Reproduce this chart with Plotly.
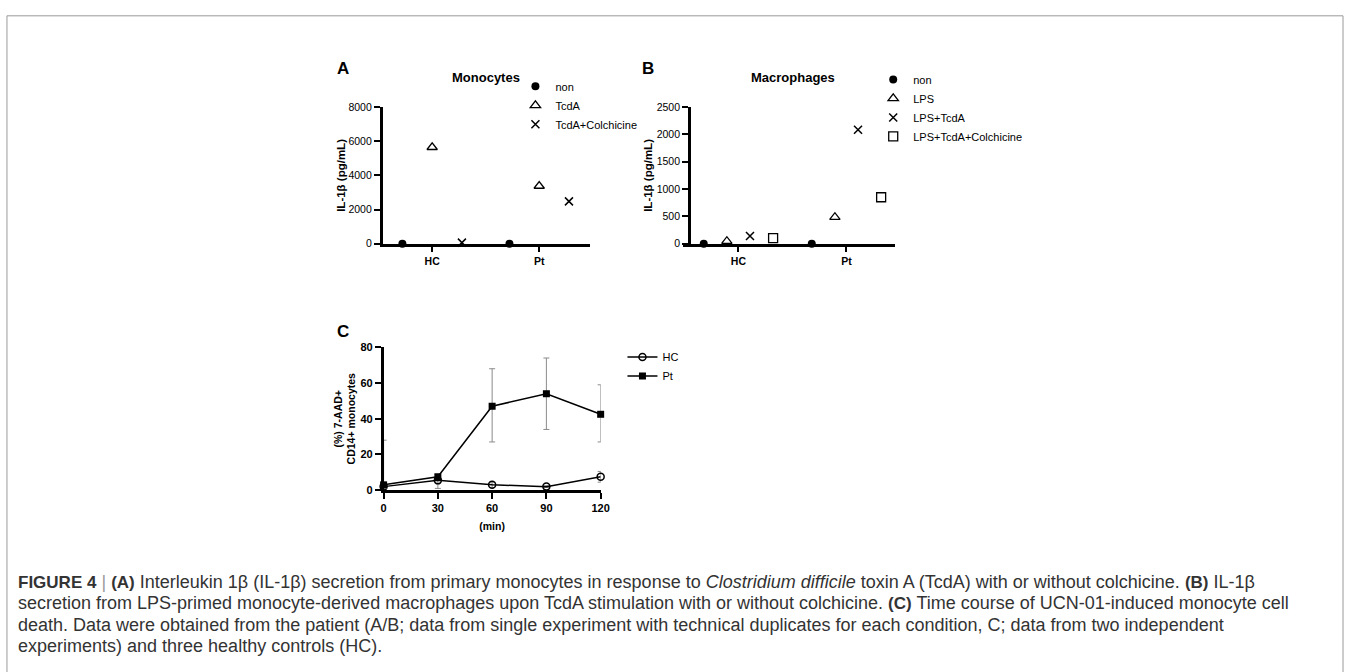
import plotly.graph_objects as go

W, H = 1354, 672

# ---------------- data ----------------
groups = ["HC", "Pt"]

mono_series = ["non", "TcdA", "TcdA+Colchicine"]
mono_values = {
    "non": [0, 0],
    "TcdA": [5650, 3380],
    "TcdA+Colchicine": [60, 2480],
}

mac_series = ["non", "LPS", "LPS+TcdA", "LPS+TcdA+Colchicine"]
mac_values = {
    "non": [0, 0],
    "LPS": [45, 485],
    "LPS+TcdA": [140, 2085],
    "LPS+TcdA+Colchicine": [100, 850],
}

time_min = [0, 30, 60, 90, 120]
hc_mean = [2, 5.5, 3, 2, 7.5]
hc_err_plus = [1, 1.5, 1.5, 0.5, 3]
hc_err_minus = [1, 4.5, 1.5, 0.5, 3]
pt_mean = [3, 7.5, 47, 54, 42.5]
pt_err_plus = [25, 1.5, 21, 20, 16.5]
pt_err_minus = [2, 1.5, 20, 20, 15.5]

mono_ticks = [0, 2000, 4000, 6000, 8000]
mac_ticks = [0, 500, 1000, 1500, 2000, 2500]
c_yticks = [0, 20, 40, 60, 80]

# ---------------- helpers ----------------
def fx(px):
    return px / W

def fy(py):
    return 1 - py / H

FONT = "Liberation Sans, Arial, sans-serif"
fig = go.Figure()

mono_style = {
    "non": dict(symbol="circle", size=8, color="black"),
    "TcdA": dict(symbol="triangle-up-open", size=9, color="black", line=dict(width=1.3, color="black")),
    "TcdA+Colchicine": dict(symbol="x-thin-open", size=8, color="black", line=dict(width=1.5, color="black")),
}
mac_style = {
    "non": dict(symbol="circle", size=8, color="black"),
    "LPS": dict(symbol="triangle-up-open", size=9, color="black", line=dict(width=1.3, color="black")),
    "LPS+TcdA": dict(symbol="x-thin-open", size=8, color="black", line=dict(width=1.5, color="black")),
    "LPS+TcdA+Colchicine": dict(symbol="square-open", size=9, color="black", line=dict(width=1.3, color="black")),
}

# Panel A (group offsets computed from series index)
slotA = 0.278
for i, s in enumerate(mono_series):
    off = (i - (len(mono_series) - 1) / 2) * slotA
    fig.add_trace(go.Scatter(
        x=[g + off for g in range(len(groups))], y=mono_values[s],
        mode="markers", name=s, marker=mono_style[s],
        xaxis="x", yaxis="y", legend="legend", cliponaxis=False))

# Panel B
slotB = 0.214
for i, s in enumerate(mac_series):
    off = (i - (len(mac_series) - 1) / 2) * slotB
    fig.add_trace(go.Scatter(
        x=[g + off for g in range(len(groups))], y=mac_values[s],
        mode="markers", name=s, marker=mac_style[s],
        xaxis="x2", yaxis="y2", legend="legend2", cliponaxis=False))

# Panel C
fig.add_trace(go.Scatter(
    x=time_min, y=hc_mean, name="HC", mode="lines+markers",
    line=dict(color="black", width=1.5),
    marker=dict(symbol="circle-open", size=7, color="black", line=dict(width=1.5, color="black")),
    error_y=dict(type="data", symmetric=False, array=hc_err_plus, arrayminus=hc_err_minus,
                 color="#8a8a8a", thickness=1, width=3),
    xaxis="x3", yaxis="y3", legend="legend3", cliponaxis=False))
fig.add_trace(go.Scatter(
    x=time_min, y=pt_mean, name="Pt", mode="lines+markers",
    line=dict(color="black", width=1.5),
    marker=dict(symbol="square", size=7, color="black"),
    error_y=dict(type="data", symmetric=False, array=pt_err_plus, arrayminus=pt_err_minus,
                 color="#8a8a8a", thickness=1, width=3),
    xaxis="x3", yaxis="y3", legend="legend3", cliponaxis=False))

unitA = 108.0
unitB = 109.0
axis_common = dict(showgrid=False, zeroline=False, showline=True, linecolor="black",
                   ticks="outside", tickcolor="black", ticklen=6)

layout = dict(
    width=W, height=H, plot_bgcolor="white", paper_bgcolor="white",
    margin=dict(l=0, r=0, t=0, b=0), font=dict(family=FONT, color="black"),
    xaxis=dict(domain=[fx(383), fx(592)], range=[(383 - 433) / unitA, (592 - 433) / unitA],
               tickvals=list(range(len(groups))), ticktext=groups, anchor="y",
               linewidth=2.5, tickwidth=2, tickfont=dict(size=10.5, family=FONT, weight="bold"),
               **axis_common),
    yaxis=dict(domain=[fy(242), fy(103)], range=[0, 8000], tickvals=mono_ticks, anchor="x",
               linewidth=2.5, tickwidth=2, tickfont=dict(size=10.5, family=FONT),
               title=dict(text="<b>IL-1β (pg/mL)</b>", font=dict(size=11.5), standoff=1),
               **axis_common),
    xaxis2=dict(domain=[fx(686), fx(900)], range=[(686 - 742) / unitB, (900 - 742) / unitB],
                tickvals=list(range(len(groups))), ticktext=groups, anchor="y2",
                linewidth=2.5, tickwidth=2, tickfont=dict(size=10.5, family=FONT, weight="bold"),
                **axis_common),
    yaxis2=dict(domain=[fy(242), fy(103)], range=[0, 2500], tickvals=mac_ticks,
                anchor="free", position=fx(692),
                linewidth=2.5, tickwidth=2, tickfont=dict(size=10.5, family=FONT),
                title=dict(text="<b>IL-1β (pg/mL)</b>", font=dict(size=11.5), standoff=0),
                **axis_common),
    xaxis3=dict(domain=[fx(384), fx(603)], range=[0, 120], tickvals=time_min, anchor="y3",
                linewidth=2.5, tickwidth=2, tickfont=dict(size=11, family=FONT, weight="bold"),
                title=dict(text="<b>(min)</b>", font=dict(size=10.5), standoff=10),
                **axis_common),
    yaxis3=dict(domain=[fy(493), fy(347.5)], range=[0, 80], tickvals=c_yticks, anchor="x3",
                linewidth=2.5, tickwidth=2, tickfont=dict(size=11, family=FONT, weight="bold"),
                title=dict(text="<b>(%) 7-AAD+<br>CD14+ monocytes</b>", font=dict(size=10.5), standoff=3),
                **axis_common),
    legend=dict(x=fx(517), y=fy(67), xanchor="left", yanchor="top", bgcolor="rgba(0,0,0,0)",
                font=dict(size=11, family=FONT), itemwidth=30, tracegroupgap=0),
    legend2=dict(x=fx(878), y=fy(60), xanchor="left", yanchor="top", bgcolor="rgba(0,0,0,0)",
                 font=dict(size=11, family=FONT), itemwidth=30, tracegroupgap=0),
    legend3=dict(x=fx(625), y=fy(342.5), xanchor="left", yanchor="top", bgcolor="rgba(0,0,0,0)",
                 font=dict(size=11, family=FONT), itemwidth=30, tracegroupgap=0),
    showlegend=True,
)
fig.update_layout(**layout)

annots = [
    dict(text="<b>A</b>", x=fx(343), y=fy(64), font=dict(size=17)),
    dict(text="<b>B</b>", x=fx(651), y=fy(64), font=dict(size=17)),
    dict(text="<b>C</b>", x=fx(343), y=fy(331), font=dict(size=17)),
    dict(text="<b>Monocytes</b>", x=fx(487), y=fy(73), font=dict(size=13)),
    dict(text="<b>Macrophages</b>", x=fx(797), y=fy(73), font=dict(size=13)),
]
for a in annots:
    fig.add_annotation(xref="paper", yref="paper", showarrow=False, xanchor="center", yanchor="middle", **a)

B = "<span style='font-size:17px'><b>{}</b></span>"
caption_lines = [
    B.format("FIGURE 4") + " <span style='color:#999'>|</span> " + B.format("(A)")
    + " Interleukin 1β (IL-1β) secretion from primary monocytes in response to <i>Clostridium difficile</i> toxin A (TcdA) with or without colchicine. "
    + B.format("(B)") + " IL-1β",
    "secretion from LPS-primed monocyte-derived macrophages upon TcdA stimulation with or without colchicine. "
    + B.format("(C)") + " Time course of UCN-01-induced monocyte cell",
    "death. Data were obtained from the patient (A/B; data from single experiment with technical duplicates for each condition, C; data from two independent",
    "experiments) and three healthy controls (HC).",
]
for i, line in enumerate(caption_lines):
    fig.add_annotation(xref="paper", yref="paper", showarrow=False, xanchor="left", yanchor="middle",
                       x=fx(13), y=fy(586 + 22 * i), text=line,
                       font=dict(size=18, family=FONT, color="#333333"))

fig.add_shape(type="rect", xref="paper", yref="paper", x0=fx(4), x1=fx(1352), y0=fy(720), y1=fy(10),
              line=dict(color="#9a9a9a", width=1), fillcolor="rgba(0,0,0,0)", layer="below")

fig.write_html("out.html", config={"displayModeBar": False},
               post_script="document.body.style.margin='0';")
